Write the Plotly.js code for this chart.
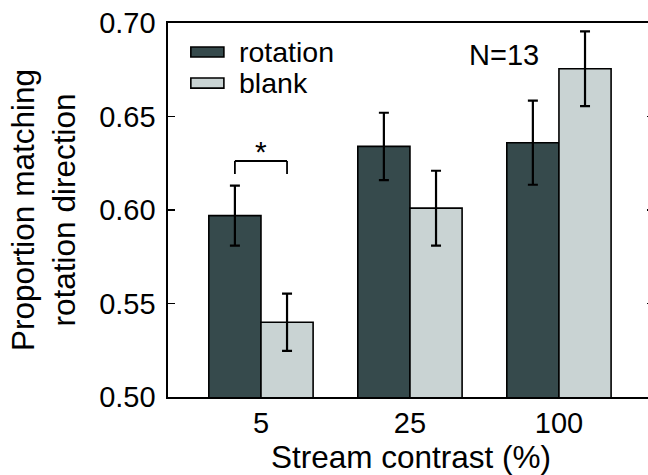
<!DOCTYPE html>
<html>
<head>
<meta charset="utf-8">
<script src="https://cdn.plot.ly/plotly-3.0.1.min.js"></script>
<style>
html,body{margin:0;padding:0;overflow:hidden;background:#fff;}
#chart{width:660px;height:475px;}
</style>
</head>
<body>
<div id="chart"></div>
<script>
const categories = ['5', '25', '100'];
const rotationValues = [0.597, 0.634, 0.636];
const rotationErrors = [0.016, 0.018, 0.0225];
const blankValues = [0.540, 0.601, 0.6755];
const blankErrors = [0.0153, 0.020, 0.020];
const yTickValues = [0.50, 0.55, 0.60, 0.65, 0.70];
const yTickLabels = ['0.50', '0.55', '0.60', '0.65', '0.70'];
const seriesNames = ['rotation', 'blank'];
const annotationText = 'N=13';
const sigBracket = {y: 0.6262, legY: 0.6193, label: '*'};

const darkColor = '#364a4c';
const lightColor = '#c9d3d3';
const FONT = 'Liberation Sans, Arial, sans-serif';

const xIdx = categories.map((c, i) => i);

const traces = [
  {
    type: 'bar', name: seriesNames[0], x: xIdx, y: rotationValues,
    marker: {color: darkColor, line: {color: '#000', width: 1.6}},
    error_y: {type: 'data', array: rotationErrors, visible: true, color: '#000', thickness: 2.2, width: 5},
    showlegend: false, hoverinfo: 'skip'
  },
  {
    type: 'bar', name: seriesNames[1], x: xIdx, y: blankValues,
    marker: {color: lightColor, line: {color: '#000', width: 1.6}},
    error_y: {type: 'data', array: blankErrors, visible: true, color: '#000', thickness: 2.2, width: 5},
    showlegend: false, hoverinfo: 'skip'
  }
];

const bargap = 0.30;
const half = (1 - bargap) / 4;

const shapes = [
  {type: 'line', xref: 'x', yref: 'y', x0: xIdx[0] - half, x1: xIdx[0] + half, y0: sigBracket.y, y1: sigBracket.y, line: {color: '#000', width: 1.8}},
  {type: 'line', xref: 'x', yref: 'y', x0: xIdx[0] - half, x1: xIdx[0] - half, y0: sigBracket.y, y1: sigBracket.legY, line: {color: '#000', width: 1.8}},
  {type: 'line', xref: 'x', yref: 'y', x0: xIdx[0] + half, x1: xIdx[0] + half, y0: sigBracket.y, y1: sigBracket.legY, line: {color: '#000', width: 1.8}},
  {type: 'rect', xref: 'paper', yref: 'paper', x0: 0.047, x1: 0.115, y0: 0.909, y1: 0.936, fillcolor: darkColor, line: {color: '#000', width: 1.6}},
  {type: 'rect', xref: 'paper', yref: 'paper', x0: 0.047, x1: 0.115, y0: 0.826, y1: 0.853, fillcolor: lightColor, line: {color: '#000', width: 1.6}}
];

const annotations = [
  {xref: 'x', yref: 'y', x: xIdx[0], y: sigBracket.y, text: sigBracket.label, showarrow: false, yanchor: 'bottom', yshift: -9, font: {family: FONT, size: 30, color: '#000'}},
  {xref: 'paper', yref: 'paper', x: 0.142, y: 0.9225, text: seriesNames[0], showarrow: false, xanchor: 'left', yanchor: 'middle', font: {family: FONT, size: 28.5, color: '#000'}},
  {xref: 'paper', yref: 'paper', x: 0.142, y: 0.8395, text: seriesNames[1], showarrow: false, xanchor: 'left', yanchor: 'middle', font: {family: FONT, size: 28.5, color: '#000'}},
  {xref: 'paper', yref: 'paper', x: 0.691, y: 0.9144, text: annotationText, showarrow: false, xanchor: 'center', yanchor: 'middle', font: {family: FONT, size: 29, color: '#000'}}
];

const layout = {
  width: 660, height: 475,
  margin: {l: 168, r: 6, t: 23, b: 78},
  paper_bgcolor: '#fff', plot_bgcolor: '#fff',
  barmode: 'group', bargap: bargap, bargroupgap: 0,
  font: {family: FONT, size: 29, color: '#000'},
  showlegend: false,
  xaxis: {
    range: [-0.624, 2.638],
    tickmode: 'array', tickvals: xIdx, ticktext: categories,
    ticks: '', showgrid: false, zeroline: false,
    showline: true, linecolor: '#000', linewidth: 1.6, mirror: true,
    tickfont: {family: FONT, size: 29, color: '#000'},
    title: {text: 'Stream contrast (%)', font: {family: FONT, size: 31.5, color: '#000'}, standoff: 4}
  },
  yaxis: {
    range: [0.50, 0.70],
    tickmode: 'array', tickvals: yTickValues, ticktext: yTickLabels,
    ticks: 'inside', ticklen: 7, tickwidth: 1.6, tickcolor: '#000',
    ticklabelstandoff: 5,
    showgrid: false, zeroline: false,
    showline: true, linecolor: '#000', linewidth: 1.6, mirror: 'ticks',
    tickfont: {family: FONT, size: 29, color: '#000'},
    title: {text: 'Proportion matching<br>rotation direction', font: {family: FONT, size: 31.5, color: '#000'}, standoff: 14}
  },
  shapes: shapes,
  annotations: annotations
};

Plotly.newPlot('chart', traces, layout, {displayModeBar: false, staticPlot: true});
</script>
</body>
</html>
